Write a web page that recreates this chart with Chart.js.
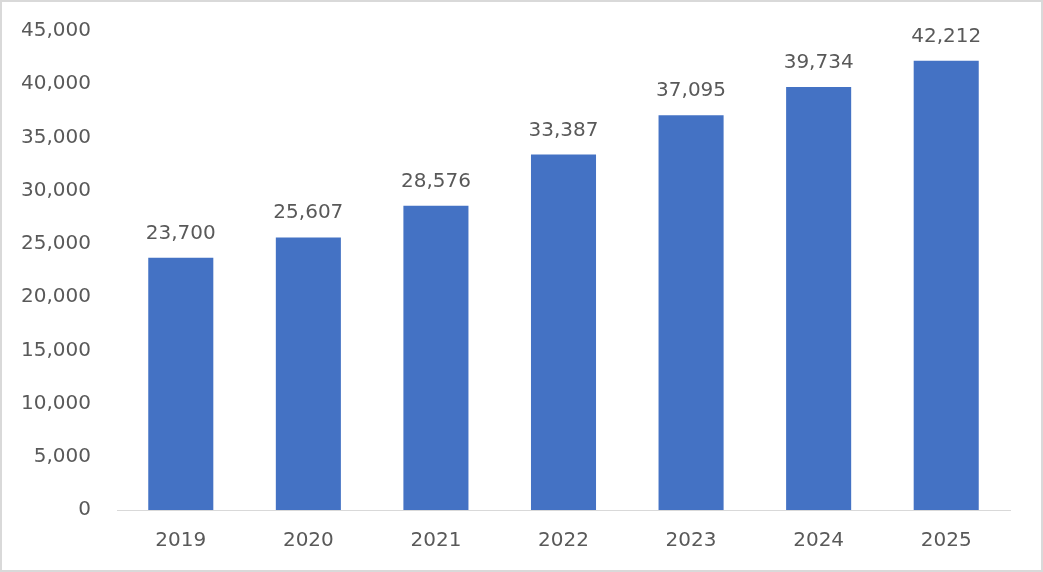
<!DOCTYPE html>
<html lang="en">
<head>
    <meta charset="UTF-8">
    <title>Yearly Totals</title>
    <style>
        body {
            margin: 0;
            background: #ffffff;
        }
        .frame {
            position: relative;
            width: 1043px;
            height: 572px;
        }
        .frame::after {
            content: "";
            position: absolute;
            left: 0;
            top: 0;
            right: 0;
            bottom: 0;
            border: 2px solid #d9d9d9;
            pointer-events: none;
        }
        canvas {
            display: block;
        }
    </style>
</head>
<body>
    <div class="frame">
        <canvas id="yearChart" width="1043" height="572"></canvas>
    </div>

    <script src="https://cdn.jsdelivr.net/npm/chart.js"></script>
    <script>
        // data
        const years = ['2019', '2020', '2021', '2022', '2023', '2024', '2025'];
        const totals = [23700, 25607, 28576, 33387, 37095, 39734, 42212];
        const yMax = 45000;
        const yStep = 5000;

        const textColor = '#595959';
        const fontFamily = '"DejaVu Sans", Verdana, sans-serif';

        // write the value above each bar
        const valueLabels = {
            id: 'valueLabels',
            afterDatasetsDraw(chart) {
                const ctx = chart.ctx;
                const meta = chart.getDatasetMeta(0);
                ctx.save();
                ctx.fillStyle = textColor;
                ctx.font = '20px ' + fontFamily;
                ctx.textAlign = 'center';
                ctx.textBaseline = 'alphabetic';
                meta.data.forEach((bar, i) => {
                    ctx.fillText(totals[i].toLocaleString('en-US'), bar.x, bar.y - 19);
                });
                ctx.restore();
            }
        };

        const ctx = document.getElementById('yearChart').getContext('2d');
        const yearChart = new Chart(ctx, {
            type: 'bar',
            data: {
                labels: years,
                datasets: [{
                    data: totals,
                    backgroundColor: '#4472c4',
                    borderWidth: 0,
                    categoryPercentage: 1,
                    barPercentage: 0.51
                }]
            },
            options: {
                responsive: false,
                animation: false,
                devicePixelRatio: 1,
                layout: {
                    padding: { top: 31, right: 33, bottom: 0, left: 0 }
                },
                plugins: {
                    legend: { display: false },
                    tooltip: { enabled: false }
                },
                scales: {
                    x: {
                        grid: { display: false, drawTicks: false },
                        border: { display: true, color: '#d9d9d9', width: 1 },
                        ticks: {
                            color: textColor,
                            font: { family: fontFamily, size: 20 },
                            padding: 19
                        },
                        afterFit(scale) { scale.height = 62; }
                    },
                    y: {
                        min: 0,
                        max: yMax,
                        grid: { display: false, drawTicks: false },
                        border: { display: false },
                        ticks: {
                            stepSize: yStep,
                            color: textColor,
                            font: { family: fontFamily, size: 20 },
                            padding: 26,
                            callback: v => v.toLocaleString('en-US')
                        },
                        afterFit(scale) {
                            // fixed label column, and no extra room above the top tick
                            scale.width = 117;
                            scale.paddingTop = 0;
                            scale.paddingBottom = 0;
                        }
                    }
                }
            },
            plugins: [valueLabels]
        });
    </script>
</body>
</html>
